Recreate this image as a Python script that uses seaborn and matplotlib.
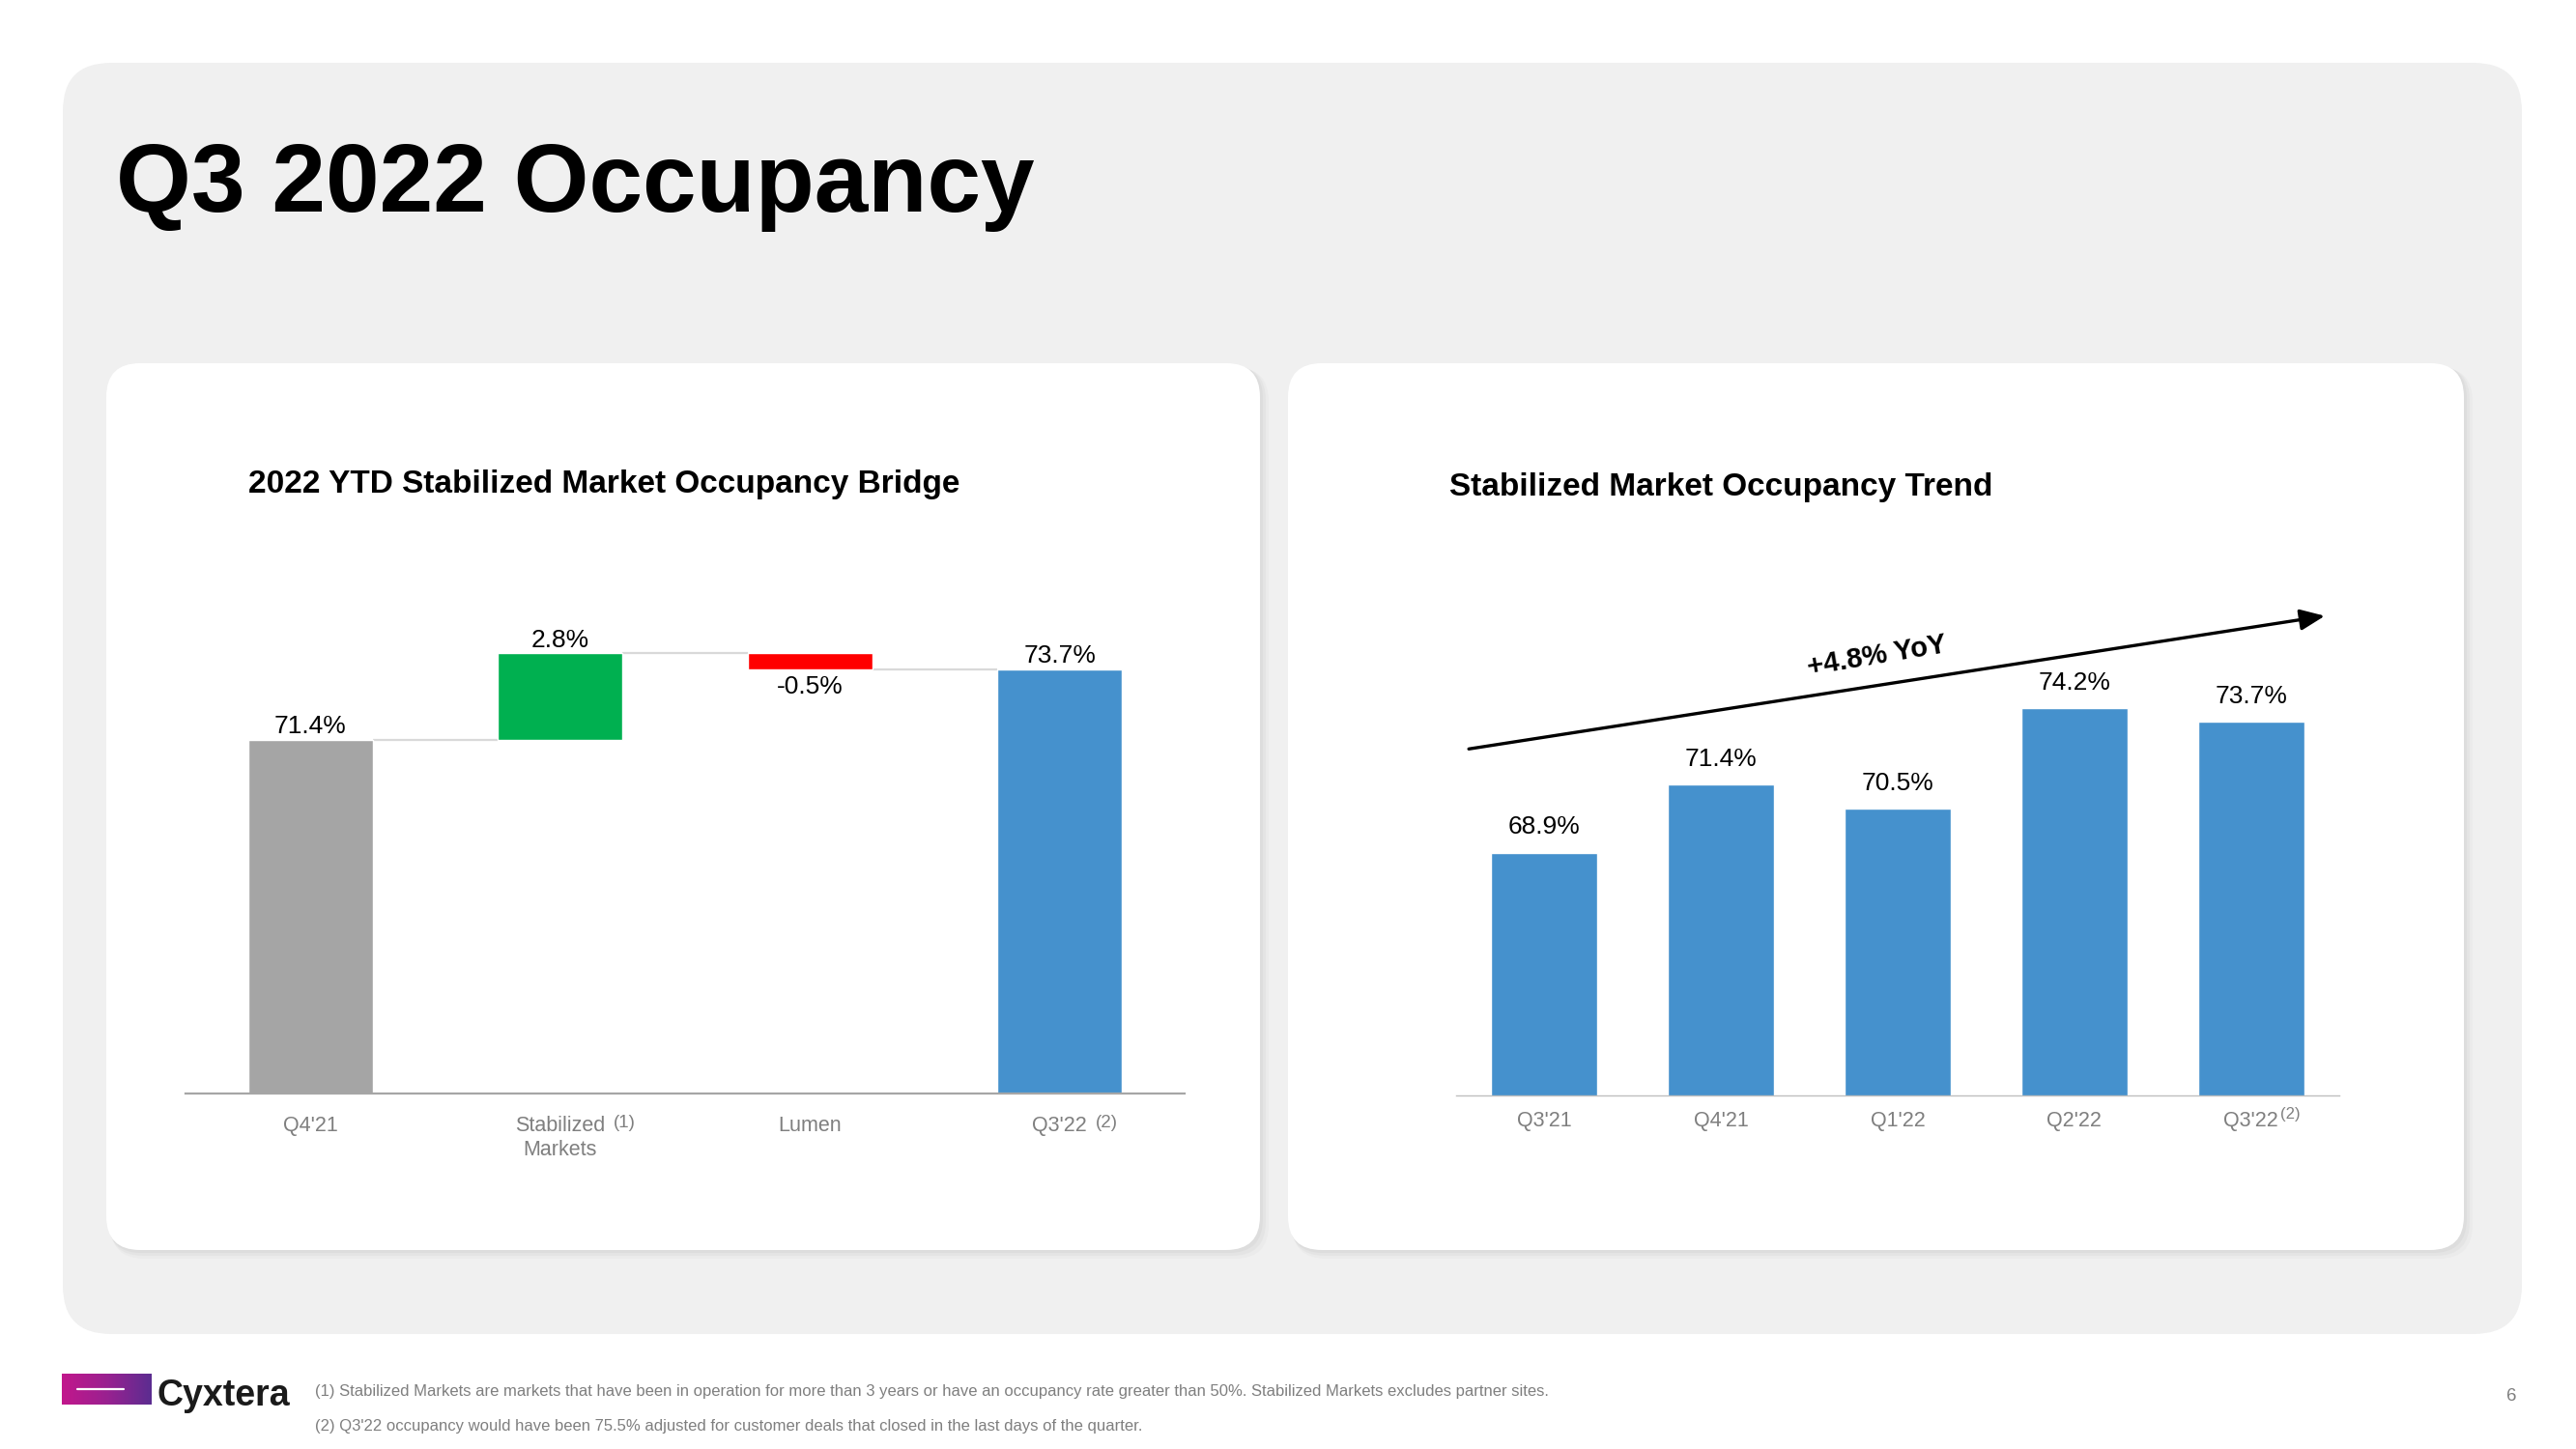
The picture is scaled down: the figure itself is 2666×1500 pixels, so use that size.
import numpy as np
import pandas as pd
import matplotlib
matplotlib.use("Agg")
import matplotlib.pyplot as plt
import seaborn as sns
from matplotlib.patches import FancyBboxPatch
from matplotlib.transforms import IdentityTransform
from matplotlib.colors import LinearSegmentedColormap

# ---------------- data ----------------
page_title = "Q3 2022 Occupancy"
bridge_title = "2022 YTD Stabilized Market Occupancy Bridge"
bridge_labels = ["Q4'21", "Stabilized\nMarkets", "Lumen", "Q3'22"]
bridge_values = [71.4, 2.8, -0.5, 73.7]          # start total, change, change, end total
bridge_kinds = ["total", "delta", "delta", "total"]
bridge_text = ["71.4%", "2.8%", "-0.5%", "73.7%"]
bridge_notes = ["", "(1)", "", "(2)"]
bridge_colors = ["#A5A5A5", "#00B050", "#FF0000", "#4591CD"]

trend_title = "Stabilized Market Occupancy Trend"
trend_quarters = ["Q3'21", "Q4'21", "Q1'22", "Q2'22", "Q3'22"]
trend_values = [68.9, 71.4, 70.5, 74.2, 73.7]
trend_text = ["68.9%", "71.4%", "70.5%", "74.2%", "73.7%"]
trend_notes = ["", "", "", "", "(2)"]
trend_color = "#4591CD"
yoy_label = "+4.8% YoY"

footnotes = [
    "(1) Stabilized Markets are markets that have been in operation for more than 3 years or have an occupancy rate greater than 50%. Stabilized Markets excludes partner sites.",
    "(2) Q3'22 occupancy would have been 75.5% adjusted for customer deals that closed in the last days of the quarter.",
]
page_number = "6"
brand = "Cyxtera"

# ---------------- style ----------------
sns.set_theme(style="white")
plt.rcParams["font.family"] = ["Liberation Sans", "DejaVu Sans"]

W, H = 2666, 1500
fig = plt.figure(figsize=(W / 100, H / 100), dpi=100)
fig.patch.set_facecolor("white")
ident = IdentityTransform()


def rbox(x0, y0, x1, y1, r, fc, z, alpha=1.0):
    p = FancyBboxPatch((x0, H - y1), x1 - x0, y1 - y0,
                       boxstyle=f"round,pad=0,rounding_size={r}",
                       transform=ident, fc=fc, ec="none", zorder=z, alpha=alpha)
    fig.add_artist(p)


# background panel
rbox(65, 65, 2610, 1381, 50, "#F0F0F0", -10)
# cards with soft shadow
for (x0, x1) in [(110, 1304), (1333, 2550)]:
    for k, a in [(9, 0.10), (6, 0.14), (3, 0.18)]:
        rbox(x0 + k * 0.5, 376 + k * 0.5, x1 + k, 1294 + k, 35, "#BFBFBF", -6, a)
    rbox(x0, 376, x1, 1294, 35, "white", -5)

# page title
fig.text(120 / W, 1 - 219 / H, page_title, fontsize=72, fontweight="bold",
         color="black", ha="left", va="baseline")
fig.text(257 / W, 1 - 510 / H, bridge_title, fontsize=24, fontweight="bold",
         color="black", ha="left", va="baseline")
fig.text(1500 / W, 1 - 513 / H, trend_title, fontsize=24, fontweight="bold",
         color="black", ha="left", va="baseline")

# ---------------- waterfall ----------------
tops, bottoms, levels = [], [], []
running = 0.0
for v, kind in zip(bridge_values, bridge_kinds):
    if kind == "total":
        running = v
        bottoms.append(0.0)
        tops.append(v)
    else:
        prev = running
        running = prev + v
        bottoms.append(min(prev, running))
        tops.append(max(prev, running))
    levels.append(running)

bridge_df = pd.DataFrame({"cat": bridge_labels, "top": tops})
ax1 = fig.add_axes([192 / W, 1 - 1131.6 / H, (1226 - 192) / W, (1131.6 - 618.8) / H])
ax1.patch.set_alpha(0)
bw = 0.5
sns.barplot(data=bridge_df, x="cat", y="top", hue="cat", palette=bridge_colors,
            width=bw, saturation=1, legend=False, ax=ax1, zorder=3)
for p, b, t in zip(ax1.patches, bottoms, tops):
    p.set_y(b)
    p.set_height(t - b)
ax1.set_ylim(60, 76)
ax1.set_xlim(-0.5, len(bridge_labels) - 0.5)

# connector lines
for i in range(len(bridge_labels) - 1):
    ax1.plot([i + bw / 2, i + 1 - bw / 2], [levels[i], levels[i]],
             color="#D9D9D9", lw=1.6, zorder=2, solid_capstyle="butt")

for i, (v, kind, txt) in enumerate(zip(bridge_values, bridge_kinds, bridge_text)):
    if kind == "delta" and v < 0:
        ax1.annotate(txt, xy=(i, bottoms[i]), xytext=(0, -5), textcoords="offset points",
                     ha="center", va="top", fontsize=19, color="black")
    else:
        ax1.annotate(txt, xy=(i, tops[i]), xytext=(0, 5), textcoords="offset points",
                     ha="center", va="baseline", fontsize=19, color="black")

# ---------------- trend ----------------
trend_df = pd.DataFrame({"quarter": trend_quarters, "occ": trend_values})
ax2 = fig.add_axes([1506.5 / W, 1 - 1134.1 / H, 914.8 / W, 508.5 / H])
ax2.patch.set_alpha(0)
sns.barplot(data=trend_df, x="quarter", y="occ", color=trend_color, width=0.6,
            saturation=1, ax=ax2, zorder=3)
ax2.set_ylim(60, 78)
ax2.set_xlim(-0.5, len(trend_quarters) - 0.5)
for i, (v, txt) in enumerate(zip(trend_values, trend_text)):
    ax2.annotate(txt, xy=(i, v), xytext=(0, 14), textcoords="offset points",
                 ha="center", va="baseline", fontsize=19, color="black")

ax2.annotate("", xy=(0.9833, 0.9764), xytext=(0.0149, 0.7056),
             xycoords="axes fraction", textcoords="axes fraction",
             arrowprops=dict(arrowstyle="-|>,head_length=0.7,head_width=0.3",
                             color="black", lw=2.4, mutation_scale=22,
                             shrinkA=0, shrinkB=0),
             annotation_clip=False)
ax2.text(0.477, 0.895, yoy_label, transform=ax2.transAxes, rotation=9.5,
         rotation_mode="anchor", ha="center", va="center", fontsize=21,
         fontweight="bold", color="black")

# ---------------- axes styling ----------------
for ax, labels, pad, spc, slw in [(ax1, bridge_labels, 16.5, "#A6A6A6", 1.6),
                                  (ax2, trend_quarters, 11.5, "#BFBFBF", 1.0)]:
    sns.despine(ax=ax, left=True, top=True, right=True)
    ax.spines["bottom"].set_color(spc)
    ax.spines["bottom"].set_linewidth(slw)
    ax.spines["bottom"].set_zorder(4)
    ax.set_yticks([])
    ax.set_xlabel("")
    ax.set_ylabel("")
    ax.set_xticks(range(len(labels)))
    ax.set_xticklabels(labels, fontsize=15.5, color="#7F7F7F", linespacing=1.25)
    ax.tick_params(axis="x", length=0, pad=pad)
    ax.grid(False)

# superscript notes next to tick labels
fig.canvas.draw()
renderer = fig.canvas.get_renderer()
for ax, notes, gap, dy, fs in [(ax1, bridge_notes, 9, 1, 13.5), (ax2, trend_notes, 2, 4, 12)]:
    for lbl, note in zip(ax.get_xticklabels(), notes):
        if note:
            bb = lbl.get_window_extent(renderer)
            fig.text(bb.x1 + gap, bb.y1 + dy, note, transform=ident, ha="left",
                     va="top", fontsize=fs, color="#7F7F7F")

# ---------------- footer ----------------
fig.text(326 / W, 1 - 1440 / H, footnotes[0], fontsize=12, color="#7F7F7F",
         ha="left", va="center")
fig.text(326 / W, 1 - 1477 / H, footnotes[1], fontsize=12, color="#7F7F7F",
         ha="left", va="center")
fig.text(2599 / W, 1 - 1446 / H, page_number, fontsize=13.5, color="#7F7F7F",
         ha="center", va="center")

# logo
lax = fig.add_axes([64 / W, 1 - 1454 / H, 93 / W, 32 / H])
grad = LinearSegmentedColormap.from_list("cyx", ["#C2178C", "#9A2190", "#5B2D90"])
lax.imshow(np.linspace(0, 1, 256)[None, :], cmap=grad, aspect="auto",
           extent=[0, 1, 0, 1])
lax.plot([(80 - 64) / 93, (128 - 64) / 93], [0.5, 0.5], color="white", lw=1.6)
lax.set_xlim(0, 1)
lax.set_ylim(0, 1)
lax.axis("off")
fig.text(163 / W, 1 - 1455 / H, brand, fontsize=27, fontweight="bold",
         color="#1A1A1A", ha="left", va="baseline")

fig.savefig("out.png", dpi=100, facecolor="white")
